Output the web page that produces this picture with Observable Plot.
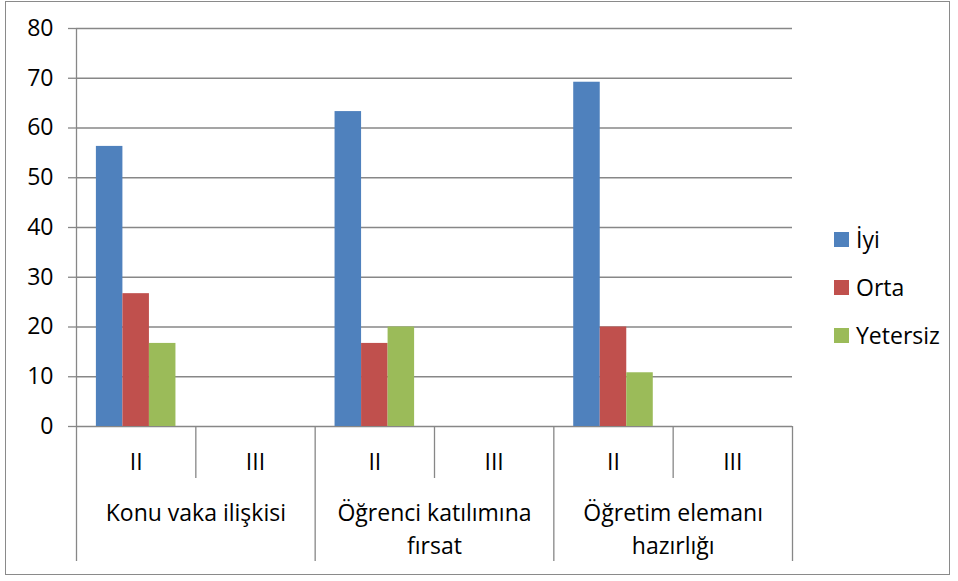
<!DOCTYPE html>
<html>
<head>
<meta charset="utf-8">
<script src="https://cdn.jsdelivr.net/npm/d3@7"></script>
<script src="https://cdn.jsdelivr.net/npm/@observablehq/plot@0.6"></script>
<style>
  html, body { margin: 0; padding: 0; background: #fff; }
  #wrap { position: relative; width: 958px; height: 581px; font-family: "Open Sans", sans-serif; }
  #border { position: absolute; left: 5px; top: 1px; width: 945px; height: 574px; box-sizing: border-box; border: 1.5px solid #8a8a8a; pointer-events: none; }
  #legend { position: absolute; left: 834px; top: 215px; font-size: 23px; color: #000; }
  .row { height: 48px; display: flex; align-items: center; }
  .sw { width: 15px; height: 15px; margin-right: 7px; }
  #chart { position: absolute; left: 0; top: 0; }
</style>
</head>
<body>
<div id="wrap">
  <div id="chart"></div>
  <div id="legend"></div>
  <div id="border"></div>
</div>
<script>
// ---- data ----
const groups = ["Konu vaka ilişkisi", "Öğrenci katılımına fırsat", "Öğretim elemanı hazırlığı"];
const groupLabels = ["Konu vaka ilişkisi", "Öğrenci katılımına\nfırsat", "Öğretim elemanı\nhazırlığı"];
const subs = ["II", "III"];
const series = ["İyi", "Orta", "Yetersiz"];
const colors = ["#4F81BD", "#C0504D", "#9BBB59"];
// values for sub-category II (one per group); III is empty
const iyiII = [56.3, 63.3, 69.2];
const ortaII = [26.7, 16.7, 20.0];
const yetersizII = [16.7, 20.0, 10.8];
const iyiIII = [null, null, null];
const ortaIII = [null, null, null];
const yetersizIII = [null, null, null];
const yTicks = [0, 10, 20, 30, 40, 50, 60, 70, 80];

// ---- table ----
const valuesBySub = {
  "II": [iyiII, ortaII, yetersizII],
  "III": [iyiIII, ortaIII, yetersizIII]
};
const gapWidth = 1.5; // Excel gap width 150%
const barW = 1 / (series.length + gapWidth);
const rows = [];
groups.forEach((g, gi) => {
  subs.forEach((s, si) => {
    const slot = gi * subs.length + si;
    series.forEach((k, ki) => {
      const v = valuesBySub[s][ki][gi];
      if (v == null) return;
      const x1 = slot + (gapWidth / 2) * barW + ki * barW;
      rows.push({group: g, sub: s, series: k, value: v, x1, x2: x1 + barW});
    });
  });
});
const nSlots = groups.length * subs.length;
const subLabelRows = [];
groups.forEach((g, gi) => subs.forEach((s, si) => subLabelRows.push({text: s, x: gi * subs.length + si + 0.5})));
const groupLabelRows = groupLabels.map((t, gi) => ({text: t, x: gi * subs.length + subs.length / 2}));
const subBounds = [];
groups.forEach((g, gi) => subs.forEach((s, si) => { if (si > 0) subBounds.push(gi * subs.length + si); }));
const groupBounds = d3.range(groups.length + 1).map(gi => gi * subs.length);

const gridColor = "#878787";

const chart = Plot.plot({
  width: 958,
  height: 581,
  marginLeft: 76,
  marginRight: 166,
  marginTop: 28,
  marginBottom: 155,
  style: {fontFamily: "Open Sans, sans-serif", fontSize: "23px", color: "#000", background: "transparent"},
  x: {type: "linear", domain: [0, nSlots], axis: null},
  y: {domain: [0, 80], axis: null},
  color: {domain: series, range: colors},
  marks: [
    Plot.gridY(yTicks, {stroke: gridColor, strokeOpacity: 1, strokeWidth: 1.3}),
    Plot.rect(rows, {x1: "x1", x2: "x2", y1: 0, y2: "value", fill: "series"}),
    Plot.ruleX([0], {stroke: gridColor, strokeWidth: 1.3}),
    Plot.ruleX(subBounds, {x: d => d, y1: 0, y2: 0, insetBottom: -52, stroke: gridColor, strokeWidth: 1.3}),
    Plot.ruleX(groupBounds, {x: d => d, y1: 0, y2: 0, insetBottom: -135, stroke: gridColor, strokeWidth: 1.3}),
    Plot.axisY(yTicks, {tickSize: 8, tickPadding: 15, stroke: gridColor, strokeWidth: 1.3, fill: "#000", label: null}),
    Plot.text(subLabelRows, {x: "x", frameAnchor: "bottom", lineAnchor: "middle", dy: 36, text: "text", fill: "#000"}),
    Plot.text(groupLabelRows, {x: "x", frameAnchor: "bottom", dy: 72, lineAnchor: "top", lineHeight: 1.4, text: "text", fill: "#000"})
  ]
});
document.getElementById("chart").appendChild(chart);

// legend
const cs = chart.scale("color");
const legend = document.getElementById("legend");
cs.domain.forEach((k, i) => {
  const row = document.createElement("div");
  row.className = "row";
  const sw = document.createElement("div");
  sw.className = "sw";
  sw.style.background = cs.range[i];
  const t = document.createElement("span");
  t.textContent = k;
  row.appendChild(sw);
  row.appendChild(t);
  legend.appendChild(row);
});
</script>
</body>
</html>
